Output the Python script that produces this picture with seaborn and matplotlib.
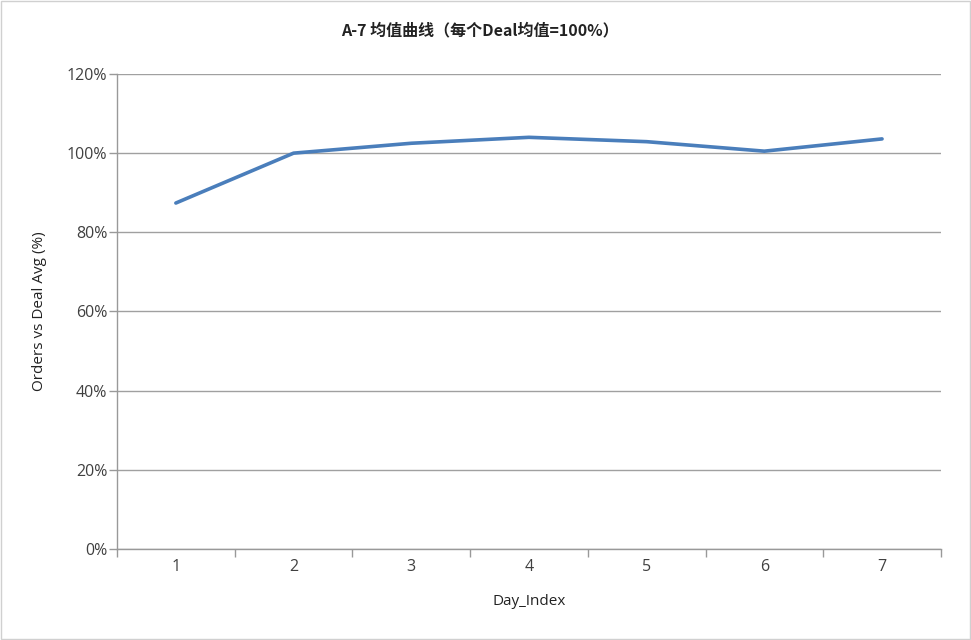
import numpy as np
import pandas as pd
import matplotlib
matplotlib.use("Agg")
import matplotlib.pyplot as plt
import seaborn as sns
from matplotlib.ticker import FuncFormatter, FixedLocator

day_index = [1, 2, 3, 4, 5, 6, 7]
pct_of_avg = [87.4, 100.0, 102.5, 104.0, 102.9, 100.5, 103.6]

df = pd.DataFrame({"Day_Index": day_index, "Pct": pct_of_avg})

sns.set_style("white")
plt.rcParams['font.family'] = ['Open Sans', 'Noto Sans CJK SC', 'DejaVu Sans']

fig = plt.figure(figsize=(9.71, 6.4), dpi=100)
ax = fig.add_axes([0.1205, 0.1422, 0.8485, 0.7422])

sns.lineplot(data=df, x="Day_Index", y="Pct", ax=ax, color="#4A7EBB", linewidth=2.6)

ax.set_xlim(0.5, 7.5)
ax.set_ylim(0, 120)
ax.set_yticks(np.arange(0, 121, 20))
ax.yaxis.set_major_formatter(FuncFormatter(lambda v, p: f"{v:.0f}%"))
ax.set_xticks(day_index)
ax.xaxis.set_minor_locator(FixedLocator(np.arange(0.5, 7.6, 1)))
ax.tick_params(axis="x", which="major", length=0, pad=7, labelsize=11.5, colors="#404040")
ax.tick_params(axis="x", which="minor", length=6, width=1, color="#999999", direction="out", bottom=True)
ax.tick_params(axis="y", which="major", length=6, width=1, color="#999999", direction="out", left=True,
               labelsize=11.5, labelcolor="#404040", pad=1)

ax.grid(axis="y", color="#A0A0A0", linewidth=1)
ax.set_axisbelow(True)
for s in ["top", "right"]:
    ax.spines[s].set_visible(False)
for s in ["left", "bottom"]:
    ax.spines[s].set_color("#999999")
    ax.spines[s].set_linewidth(1)

ax.set_xlabel("Day_Index", fontsize=11, color="#222222", labelpad=14)
ax.set_ylabel("Orders vs Deal Avg (%)", fontsize=11, color="#222222", labelpad=14)
fig.text(0.494, 0.953, "A-7 均值曲线（每个Deal均值=100%）", ha="center", va="center",
         fontsize=11.5, fontweight="bold", family=['Noto Sans CJK SC', 'DejaVu Sans'], color="#222222")

fig.patches.append(plt.Rectangle((0.001, 0.001), 0.998, 0.997, transform=fig.transFigure,
                                 fill=False, edgecolor="#D0D0D0", linewidth=1))

fig.savefig("out.png", dpi=100)
